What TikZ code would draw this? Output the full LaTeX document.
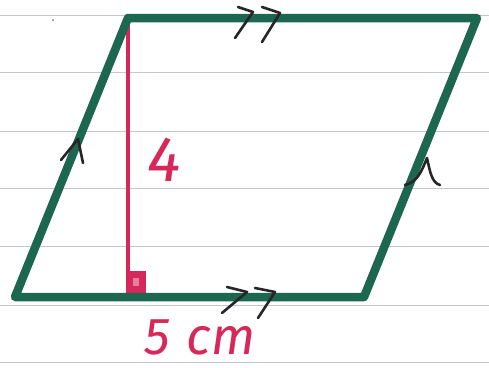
\documentclass[tikz,border=0pt]{standalone}
\usepackage{fontspec}
\setmainfont{Fira Sans}
\definecolor{pen}{HTML}{1D6650}
\definecolor{redpen}{HTML}{D6285A}
\definecolor{rule}{HTML}{C2C5D2}
\begin{document}
\begin{tikzpicture}[x=1pt,y=-1pt,
  ruled/.style={draw=rule,line width=1pt},
  side/.style={draw=pen,line width=8.5pt,line cap=round,line join=round},
  tick/.style={draw=black!85,line width=2.6pt,line cap=round,line join=round},
  height/.style={draw=redpen,line width=3.4pt},
  lbl/.style={text=redpen,inner sep=0pt}]
\useasboundingbox (0,0) rectangle (489,367);
\fill[white] (0,0) rectangle (489,367);
% lined paper
\foreach \y in {15,72,131,188,246,305,362}
  \draw[ruled] (0,\y) -- (489,\y);
\fill[black!55] (53,20) circle (1pt);
% vertices
\coordinate (A) at (15,297);
\coordinate (B) at (364,297);
\coordinate (C) at (477,18);
\coordinate (D) at (128,18);
\coordinate (H) at (128,297);
% height
\draw[height] (D) -- (H);
\fill[redpen] (126,271) rectangle (146,295);
\fill[redpen!60] (133,278) rectangle (139,286);
% sides
\draw[side] (A) -- (B) -- (C) -- (D) -- cycle;
% parallel marks
\draw[tick] (238,7) -- (253,12) -- (235,38);
\draw[tick] (262,7) -- (280,13) -- (262,42);
\draw[tick] (227,287) -- (247,292) -- (222,313);
\draw[tick] (255,288) -- (275,292) -- (258,318);
\draw[tick] (61,160) -- (78,139) -- (83,163);
\draw[tick] (405,185) .. controls (418,182) and (422,170) .. (427,158) .. controls (430,172) and (432,183) .. (440,185);
% labels
\node[lbl,font=\itshape\fontsize{64}{64}\selectfont] (h) at (164,160) {4};
\node[lbl,font=\itshape\fontsize{52}{52}\selectfont] (b) at (200,337) {5\hspace{16pt}cm};
\end{tikzpicture}
\end{document}
